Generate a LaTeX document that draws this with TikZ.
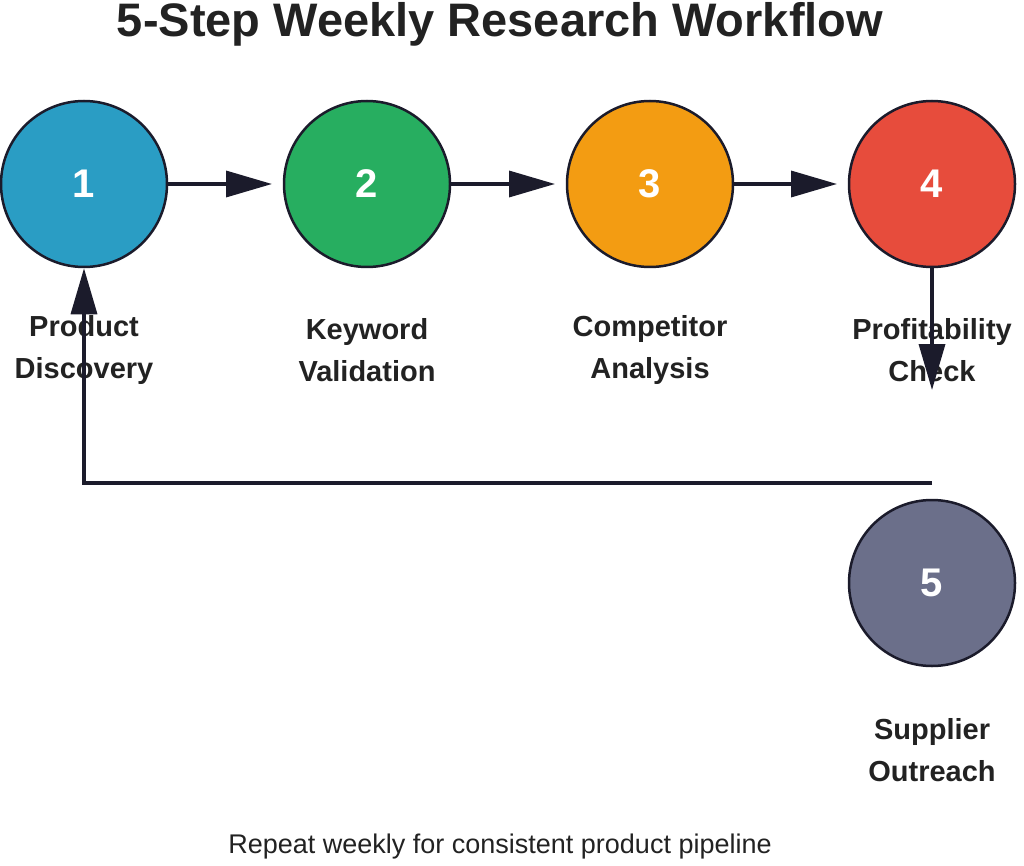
\documentclass[tikz,border=0pt]{standalone}
\usepackage{fontspec}
\setmainfont{Liberation Sans}
\usetikzlibrary{arrows.meta}
\definecolor{ink}{HTML}{1B1B2B}
\definecolor{txt}{HTML}{222222}
\definecolor{cA}{HTML}{2A9DC4}
\definecolor{cB}{HTML}{27AE60}
\definecolor{cC}{HTML}{F39C12}
\definecolor{cD}{HTML}{E74C3C}
\definecolor{cE}{HTML}{6B6F8A}
\begin{document}
\begin{tikzpicture}[x=1pt,y=-1pt,
  stepnode/.style={circle,draw=ink,line width=2.5pt,minimum size=166pt,inner sep=0pt,text=white,font=\fontsize{40}{40}\selectfont\bfseries},
  lab/.style={align=center,text=txt,font=\fontsize{29}{42}\selectfont\bfseries},
  conn/.style={draw=ink,line width=3.5pt,-{Triangle[length=46pt,width=26pt]}}]
\useasboundingbox (0,0) rectangle (1024,866);
\node[text=txt,font=\fontsize{47}{47}\selectfont\bfseries] (title) at (500,24) {5-Step Weekly Research Workflow};
\node[stepnode,fill=cA] (s1) at (84,184) {1};
\node[stepnode,fill=cB] (s2) at (367,184) {2};
\node[stepnode,fill=cC] (s3) at (650,184) {3};
\node[stepnode,fill=cD] (s4) at (932,184) {4};
\node[stepnode,fill=cE] (s5) at (932,583) {5};
\node[lab] (l1) at (84,350) {Product\\Discovery};
\node[lab] (l2) at (367,350) {Keyword\\Validation};
\node[lab] (l3) at (650,350) {Competitor\\Analysis};
\node[lab] (l4) at (932,350) {Profitability\\Check};
\node[lab] (l5) at (932,750) {Supplier\\Outreach};
\coordinate (a2) at (272,184);
\coordinate (a3) at (555,184);
\coordinate (a4) at (837,184);
\coordinate (a5) at (932,390);
\coordinate (r1) at (932,483);
\coordinate (r2) at (84,483);
\draw[conn] (s1) -- (a2);
\draw[conn] (s2) -- (a3);
\draw[conn] (s3) -- (a4);
\draw[conn] (s4) -- (a5);
\draw[conn] (r1) -- (r2) -- (s1);
\node[text=txt,font=\fontsize{27}{27}\selectfont] (foot) at (500,847) {Repeat weekly for consistent product pipeline};
\end{tikzpicture}
\end{document}
